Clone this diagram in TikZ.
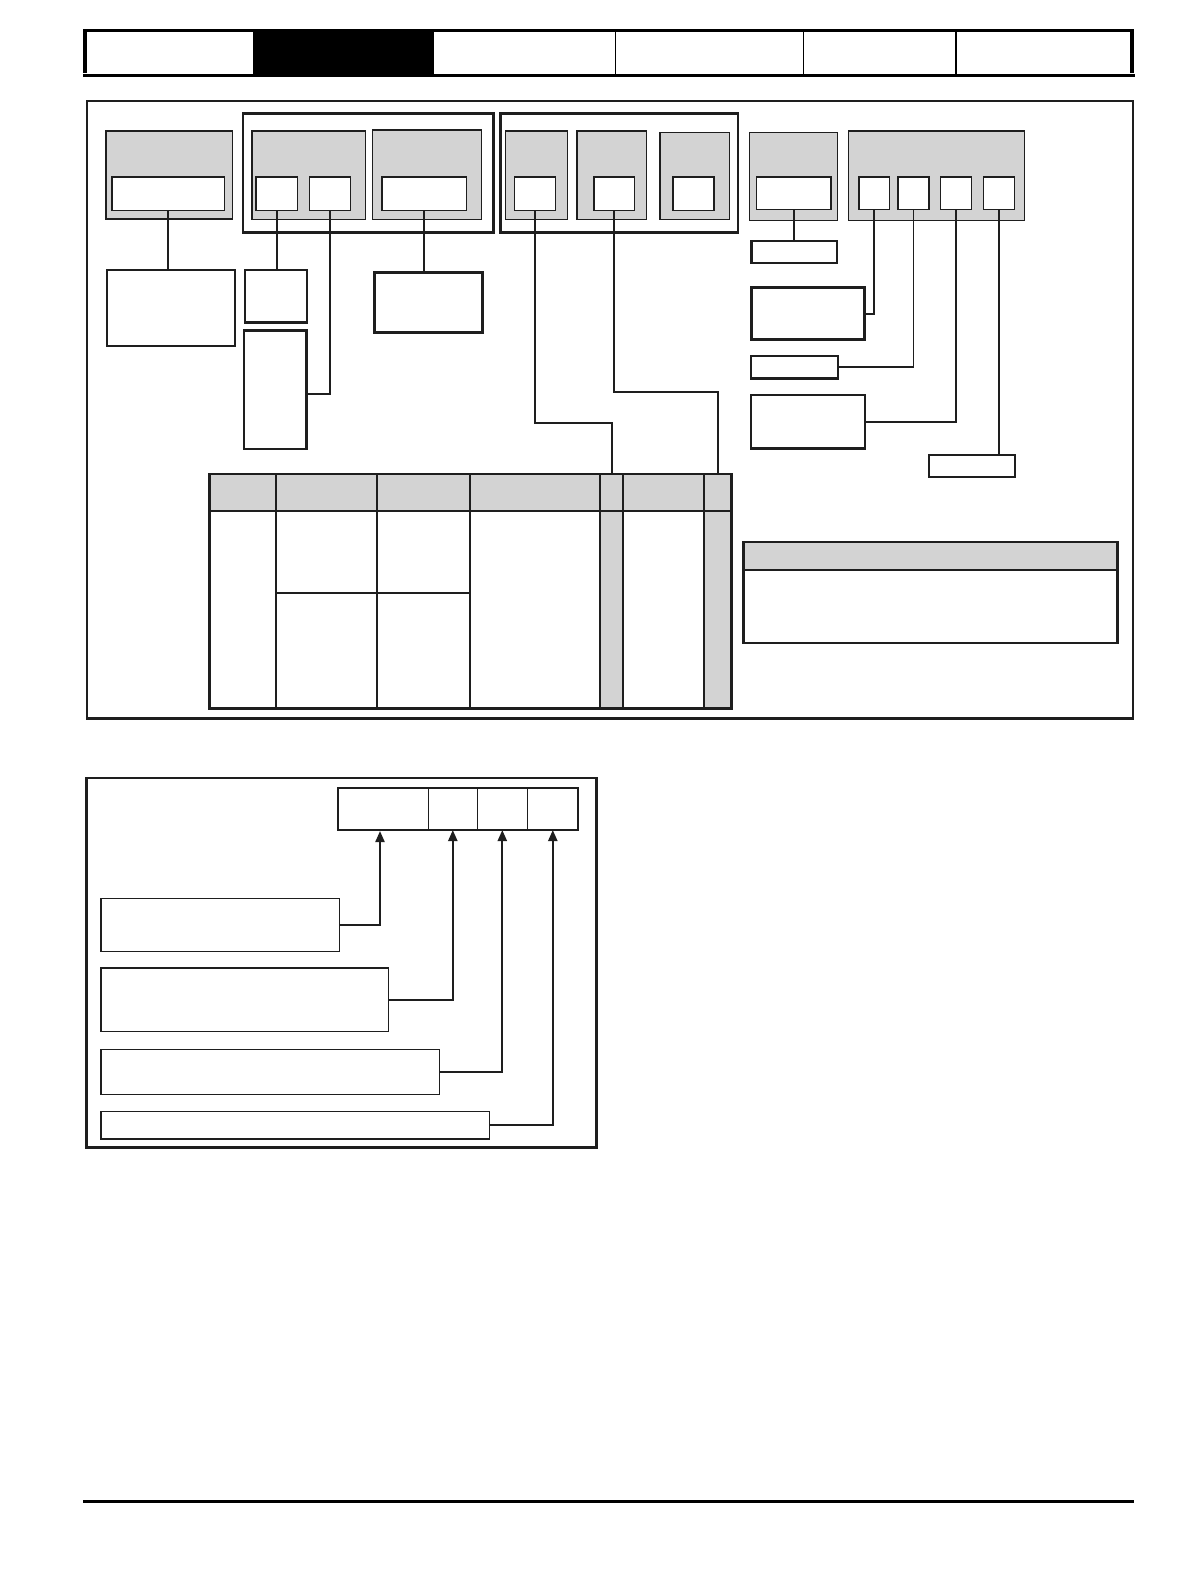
\documentclass[tikz,border=0pt]{standalone}
\usetikzlibrary{fit,arrows.meta}
\definecolor{lgray}{RGB}{211,211,211}
\definecolor{ink}{RGB}{30,30,30}
\begin{document}
\begin{tikzpicture}[x=0.5pt,y=-0.5pt,
  box/.style={draw=ink, inner sep=0pt, outer sep=0pt},
  graybox/.style={box, fill=lgray, line width=0.6pt},
  slot/.style={box, fill=white, line width=0.6pt},
  heavybox/.style={box, fill=white, line width=1.25pt},
  midbox/.style={box, fill=white, line width=1.05pt},
  groupbox/.style={box, line width=1.4pt},
  framebox/.style={box, line width=1.45pt},
  thinbox/.style={box, fill=white, line width=0.65pt},
  conn/.style={draw=ink, line width=1.1pt},
  connthin/.style={draw=ink, line width=0.95pt},
  arr/.style={draw=ink, line width=1.05pt, -{Triangle[width=4.5pt,length=5.5pt]}},
  tabline/.style={draw=ink, line width=1.05pt},
]
\useasboundingbox (0,0) rectangle (1190,1580);

% ---------- header tabs ----------
\fill[black] (253,30.5) rectangle (433.5,75.5);
\draw[line width=1.5pt] (83,30.5) -- (1134,30.5);
\draw[line width=1.75pt] (83,75.5) -- (1135,75.5);
\draw[line width=2pt] (85,29) -- (85,73);
\draw[line width=2pt] (1132,29) -- (1132,73);
\draw[line width=0.6pt] (615.7,31) -- (615.7,75);
\draw[line width=0.6pt] (803.5,31) -- (803.5,75);
\draw[line width=0.6pt] (956,31) -- (956,75);

% ---------- frame 1 ----------
\node[framebox, fit={(87,101) (1133,718.5)}] (frame1) {};

% group boxes
\node[groupbox, fit={(243,113.7) (493.7,232.3)}] (grp1) {};
\node[groupbox, fit={(500.5,113.7) (738,232.3)}] (grp2) {};

% gray modules with slots
\node[graybox, fit={(106,131) (232.7,219)}] (gA) {};
\node[slot, fit={(112,177) (224.7,210.7)}] (iA) {};

\node[graybox, fit={(252,131) (365.7,219.7)}] (gB) {};
\node[slot, fit={(256,177) (297.7,210.7)}] (iB1) {};
\node[slot, fit={(309.3,177) (350.7,210.7)}] (iB2) {};

\node[graybox, fit={(372.3,130) (481.7,219.7)}] (gC) {};
\node[slot, fit={(382,177) (466.7,210.7)}] (iC) {};

\node[graybox, fit={(505.1,131) (567.2,219.3)}] (gD1) {};
\node[slot, fit={(514.5,177) (555.1,210.7)}] (iD1) {};
\node[graybox, fit={(577,131) (646.8,219.3)}] (gD2) {};
\node[slot, fit={(594,177) (634.6,210.7)}] (iD2) {};
\node[graybox, fit={(659.9,132.3) (729.4,219.3)}] (gD3) {};
\node[slot, fit={(672.9,177) (713.9,210.7)}] (iD3) {};

\node[graybox, fit={(749.8,132.3) (837.5,220.3)}] (gE) {};
\node[slot, fit={(756.7,177) (831,209.3)}] (iE) {};

\node[graybox, fit={(848.1,131) (1024.3,220.3)}] (gF) {};
\node[slot, fit={(859,177) (889.1,209.3)}] (iF1) {};
\node[slot, fit={(898,177) (928.9,209.3)}] (iF2) {};
\node[slot, fit={(940.2,177) (971.5,209.3)}] (iF3) {};
\node[slot, fit={(983.3,177) (1014.5,209.3)}] (iF4) {};

% boxes below the modules
\node[heavybox, fit={(106.8,270) (235.2,346)}] (bA) {};
\node[heavybox, fit={(244.8,270) (307.2,322.3)}] (bB1) {};
\node[heavybox, fit={(244,330.3) (306.3,449)}] (bB2) {};
\node[heavybox, fit={(374.7,272.7) (482.3,332.3)}] (bC) {};

\node[heavybox, fit={(751.5,241) (837,263)}] (bE1) {};
\node[heavybox, fit={(751.5,287.7) (864.5,339.7)}] (bF1) {};
\node[midbox, fit={(751.1,356.2) (838.2,378.5)}] (bF2) {};
\node[midbox, fit={(751.1,395.2) (865,448.5)}] (bF3) {};
\node[midbox, fit={(928.6,454.8) (1015.3,477.2)}] (bF4) {};

% connectors
\draw[conn] (iA.south) -- (iA.south |- bA.north);
\draw[conn] (iB1.south) -- (iB1.south |- bB1.north);
\draw[conn] (iB2.south) |- ([yshift=-2.3pt]bB2.east);
\draw[conn] (iC.south) -- (iC.south |- bC.north);
\draw[connthin] (iE.south) -- (iE.south |- bE1.north);
\draw[conn] (iF1.south) |- (bF1.east);
\draw[connthin] (iF2.south) |- (bF2.east);
\draw[draw=ink, line width=1.3pt] (iF3.south) |- (bF3.east);
\draw[connthin] (iF4.south) -- (iF4.south |- bF4.north);

% ---------- table ----------
\fill[lgray] (209.7,474) rectangle (731.8,511);
\fill[lgray] (599.8,511) rectangle (623,708.5);
\fill[lgray] (703.6,511) rectangle (731.8,708.5);
\foreach \cx in {276.2,377,469.7,599.8,623,703.6}
  \draw[tabline] (\cx,474) -- (\cx,708.5);
\draw[tabline] (209.7,511) -- (731.8,511);
\draw[draw=ink, line width=0.8pt] (276.2,593) -- (469.7,593);
\node[box, line width=1.35pt, fit={(209.7,474) (731.8,708.5)}] (tbl) {};

\coordinate (kD1) at (612,423.3);
\coordinate (kD2) at (717.9,391.7);
\draw[connthin] (iD1.south) |- (kD1) -- (kD1 |- tbl.north);
\draw[conn] (iD2.south) |- (kD2) -- (kD2 |- tbl.north);

% ---------- box G ----------
\fill[lgray] (743.3,541.7) rectangle (1117.3,569.7);
\node[box, line width=1.2pt, fit={(743.3,541.7) (1117.3,642.7)}] (G) {};
\draw[draw=ink, line width=1.15pt] (G.west |- 0,569.7) -- (G.east |- 0,569.7);

% ---------- frame 2 ----------
\node[framebox, fit={(86.2,778) (596.2,1147.5)}] (frame2) {};

\node[box, line width=0.6pt, fit={(337.7,788) (428.3,830)}] (c1) {};
\node[box, line width=0.6pt, fit={(428.3,788) (477.3,830)}] (c2) {};
\node[box, line width=0.6pt, fit={(477.3,788) (527.3,830)}] (c3) {};
\node[box, line width=0.6pt, fit={(527.3,788) (578.3,830)}] (c4) {};
\node[box, line width=1.1pt, fit={(337.7,788) (578.3,830)}] (cells) {};

\node[thinbox, fit={(101,898.3) (339.7,951.3)}] (L1) {};
\node[thinbox, fit={(101,968) (388.7,1031.3)}] (L2) {};
\node[thinbox, fit={(101,1049.3) (439.7,1094.3)}] (L3) {};
\node[thinbox, fit={(101,1111.3) (489.3,1139)}] (L4) {};

\coordinate (t1) at (380,831);
\draw[arr] (L1.east) -| (t1);
\draw[arr] (L2.east) -| (c2.south);
\draw[arr] (L3.east) -| (c3.south);
\draw[arr] (L4.east) -| (c4.south);

% ---------- footer ----------
\draw[line width=1.5pt] (83,1501) -- (1134,1501);
\end{tikzpicture}
\end{document}
